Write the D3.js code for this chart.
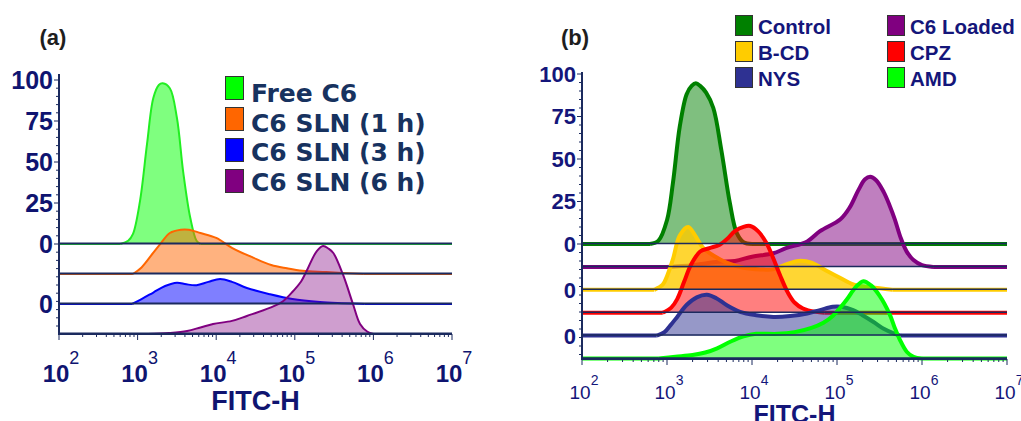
<!DOCTYPE html>
<html>
<head>
<meta charset="utf-8">
<script src="https://cdn.jsdelivr.net/npm/d3@7"></script>
<style>
  body { margin: 0; background: #fff; }
</style>
</head>
<body>
<svg id="chart" width="1021" height="421"></svg>
<script>
// x = log10(FITC-H), y = % of max count

// panel (a)
const freeC6 = [[2.78,0],[2.88,2],[2.94,6],[3.03,26],[3.12,61],[3.2,89],[3.27,97],[3.32,98],[3.41,95],[3.5,77],[3.58,44],[3.67,16],[3.75,2],[3.8,0]];
const sln1h = [[2.94,0],[3.05,4],[3.2,13],[3.3,19],[3.41,25],[3.55,27],[3.65,27],[3.8,25],[4.0,22],[4.2,16],[4.47,10],[4.7,5.5],[4.9,3.5],[5.1,2],[5.4,1.2],[5.87,0]];
const sln3h = [[2.93,0],[3.05,3],[3.2,7],[3.35,11],[3.5,13],[3.62,12],[3.75,11.5],[3.9,13.5],[4.05,15.2],[4.2,13.5],[4.39,9.8],[4.68,6],[4.97,3],[5.32,1.2],[5.6,0.5],[5.89,0]];
const sln6h = [[3.13,0],[3.4,0.6],[3.63,1.8],[3.8,4],[3.96,6.1],[4.2,8],[4.39,11],[4.68,15.9],[4.85,20],[4.98,26.2],[5.08,32],[5.15,38.4],[5.28,50.6],[5.36,53.7],[5.43,52],[5.49,49.4],[5.61,36.6],[5.74,18.3],[5.83,6.1],[5.92,1.5],[6.0,0]];

const seriesA = ["Free C6", "C6 SLN (1 h)", "C6 SLN (3 h)", "C6 SLN (6 h)"];

// panel (b)
const control = [[2.8,0],[2.9,2],[3.0,14],[3.07,36],[3.15,69],[3.23,88],[3.29,93],[3.34,94.5],[3.39,93],[3.46,89],[3.545,80],[3.64,55],[3.74,24],[3.82,6.5],[3.9,1],[4.0,0]];
const c6Loaded = [[3.0,0],[3.3,1],[3.6,3],[3.8,3.5],[4.0,6],[4.25,8],[4.4,11],[4.65,15],[4.8,21],[5.04,28],[5.15,35],[5.25,45],[5.33,51.5],[5.39,53],[5.46,51],[5.55,44],[5.62,36],[5.68,28],[5.75,17],[5.82,9],[5.9,4],[6.0,1],[6.13,0]];
const bcd = [[2.85,0],[2.95,3],[3.0,8],[3.07,18],[3.15,32],[3.25,37],[3.33,32],[3.42,25],[3.55,20],[3.7,16],[3.9,13],[4.1,12],[4.25,12],[4.4,15],[4.55,17],[4.7,16],[4.85,12],[5.0,8],[5.2,3],[5.4,1.5],[5.65,0]];
const cpz = [[2.95,0],[3.05,3],[3.12,8],[3.2,18],[3.28,28],[3.39,36],[3.5,38],[3.62,40],[3.72,44],[3.8,48],[3.9,50.5],[3.98,51],[4.07,48],[4.17,41],[4.25,32],[4.33,22],[4.42,12],[4.5,6],[4.6,2.5],[4.75,0.5],[4.85,0]];
const nys = [[2.88,0],[2.97,2],[3.04,6],[3.12,11],[3.23,18],[3.35,22.5],[3.47,24],[3.58,22],[3.7,18],[3.86,14],[4.05,12],[4.25,11],[4.45,11.5],[4.65,13],[4.8,15],[4.95,17],[5.05,17],[5.19,15],[5.3,12],[5.43,8],[5.55,4],[5.66,1.5],[5.75,0]];
const amd = [[2.9,0],[3.1,1],[3.3,2],[3.45,3.5],[3.59,6],[3.75,10],[3.9,13],[4.05,14.5],[4.3,14.5],[4.5,15.5],[4.7,18],[4.84,21],[4.95,25],[5.04,30],[5.12,35],[5.22,42],[5.31,45.5],[5.4,43],[5.5,37],[5.62,26],[5.68,18],[5.74,11],[5.82,4],[5.9,1],[6.0,0]];

const seriesB = ["Control", "C6 Loaded", "B-CD", "CPZ", "NYS", "AMD"];

const yTickValues = [0, 25, 50, 75, 100];
const xExponents = [2, 3, 4, 5, 6, 7];

const svg = d3.select("#chart");
const navy = "#1b2a5e";
const smooth = d3.curveCatmullRom.alpha(0.5);

function drawPanel(cfg) {
  const x = d3.scaleLog().domain([1e2, 1e7]).range([cfg.left, cfg.right]);
  const y = d3.scaleLinear().domain([0, 100]).range([cfg.zero, cfg.top100]);
  const g = svg.append("g");
  const rowY = (v, i) => y(v) + i * cfg.step;

  // histograms, top row first so lower rows sit on top
  cfg.series.forEach((s, i) => {
    const base = rowY(0, i);
    const area = d3.area()
      .x(d => x(10 ** d[0]))
      .y0(base)
      .y1(d => rowY(d[1], i))
      .curve(smooth);
    g.append("path")
      .attr("d", area(s.data))
      .attr("fill", s.color)
      .attr("fill-opacity", s.opacity);

    // flat count-zero runs either side of the histogram
    if (s.flat !== false) {
      const first = s.data[0][0], last = s.data[s.data.length - 1][0];
      [[2, first], [last, 7]].forEach(([a, b]) => {
        g.append("line")
          .attr("x1", x(10 ** a)).attr("x2", x(10 ** b))
          .attr("y1", base).attr("y2", base)
          .attr("stroke", s.line || s.color)
          .attr("stroke-width", cfg.lineWidth);
      });
    }
    g.append("path")
      .attr("d", area.lineY1()(s.data))
      .attr("fill", "none")
      .attr("stroke", s.line || s.color)
      .attr("stroke-width", cfg.lineWidth)
      .attr("stroke-linejoin", "round");
  });

  // navy zero lines through every row
  cfg.series.forEach((s, i) => {
    g.append("line")
      .attr("x1", cfg.left).attr("x2", cfg.right)
      .attr("y1", rowY(0, i) - cfg.navyShift).attr("y2", rowY(0, i) - cfg.navyShift)
      .attr("stroke", navy).attr("stroke-width", cfg.navyWidth);
  });

  // axes lines
  g.append("line")
    .attr("x1", cfg.left).attr("x2", cfg.left)
    .attr("y1", cfg.axisTop).attr("y2", cfg.bottom + 1)
    .attr("stroke", navy).attr("stroke-width", 2);
  g.append("line")
    .attr("x1", cfg.left).attr("x2", cfg.right)
    .attr("y1", cfg.bottom).attr("y2", cfg.bottom)
    .attr("stroke", navy).attr("stroke-width", 2);

  // y minor / major ticks
  d3.range(100, -80, -5).filter(v => y(v) <= cfg.bottom - 2).forEach(v => {
    const major = v % 25 === 0 && v >= 0;
    g.append("line")
      .attr("x1", cfg.left - (major ? 5 : 3)).attr("x2", cfg.left)
      .attr("y1", y(v)).attr("y2", y(v))
      .attr("stroke", navy).attr("stroke-width", 1);
  });

  // x log ticks
  xExponents.slice(0, -1).forEach(e => {
    d3.range(1, 10).forEach(m => {
      g.append("line")
        .attr("x1", x(m * 10 ** e)).attr("x2", x(m * 10 ** e))
        .attr("y1", cfg.bottom).attr("y2", cfg.bottom + (m === 1 ? 6 : 3))
        .attr("stroke", navy).attr("stroke-width", 1);
    });
  });
  g.append("line")
    .attr("x1", cfg.right).attr("x2", cfg.right)
    .attr("y1", cfg.bottom).attr("y2", cfg.bottom + 6)
    .attr("stroke", navy).attr("stroke-width", 1);

  // y labels
  yTickValues.forEach(v => {
    g.append("text")
      .attr("x", cfg.left - 6).attr("y", y(v)).attr("dy", "0.36em")
      .attr("text-anchor", "end")
      .attr("font-family", "Liberation Sans, Arial, sans-serif")
      .attr("font-weight", "bold").attr("font-size", cfg.yFont)
      .attr("fill", cfg.labelColor)
      .text(v);
  });
  cfg.extraZeros.forEach(i => {
    g.append("text")
      .attr("x", cfg.left - 6).attr("y", rowY(0, i)).attr("dy", "0.36em")
      .attr("text-anchor", "end")
      .attr("font-family", "Liberation Sans, Arial, sans-serif")
      .attr("font-weight", "bold").attr("font-size", cfg.yFont)
      .attr("fill", cfg.labelColor)
      .text(0);
  });

  // x labels 10^n
  xExponents.forEach(e => {
    const t = g.append("text")
      .attr("x", x(10 ** e) + 2).attr("y", cfg.xLabelY)
      .attr("text-anchor", "middle")
      .attr("font-family", "Liberation Sans, Arial, sans-serif")
      .attr("fill", cfg.labelColor);
    t.append("tspan")
      .attr("font-weight", cfg.xBold ? "bold" : "normal")
      .attr("font-size", cfg.xFont)
      .text("10");
    t.append("tspan")
      .attr("dy", -cfg.supShift)
      .attr("font-size", cfg.supFont)
      .text(e);
  });

  g.append("text")
    .attr("x", (cfg.left + cfg.right) / 2).attr("y", cfg.titleY)
    .attr("text-anchor", "middle")
    .attr("font-family", "Liberation Sans, Arial, sans-serif")
    .attr("font-weight", "bold").attr("font-size", cfg.titleFont)
    .attr("fill", cfg.labelColor)
    .text("FITC-H");

  g.append("text")
    .attr("x", cfg.tagX).attr("y", 45)
    .attr("text-anchor", "middle")
    .attr("font-family", "Liberation Sans, Arial, sans-serif")
    .attr("font-weight", "bold").attr("font-size", 22)
    .attr("fill", "#1e1e1e")
    .text(cfg.tag);
}

drawPanel({
  left: 59, right: 452, zero: 244, top100: 80, step: 30, bottom: 334, axisTop: 74,
  lineWidth: 2, navyWidth: 2, navyShift: 0.5,
  labelColor: "#0f1470", yFont: 25, xFont: 24, xBold: true, supFont: 18, supShift: 18,
  xLabelY: 382, titleY: 410, titleFont: 27, tag: "(a)", tagX: 53,
  extraZeros: [2],
  series: [
    { data: freeC6, color: "#00ff00", line: "#22ee22", opacity: 0.5 },
    { data: sln1h, color: "#ff6600", opacity: 0.5 },
    { data: sln3h, color: "#0000ff", opacity: 0.5 },
    { data: sln6h, color: "#800080", opacity: 0.38, flat: false }
  ]
});

drawPanel({
  left: 582, right: 1007, zero: 244, top100: 74, step: 22.9, bottom: 359, axisTop: 72,
  lineWidth: 4, navyWidth: 1.5, navyShift: 0.5,
  labelColor: "#14167a", yFont: 22, xFont: 19, xBold: false, supFont: 14, supShift: 14,
  xLabelY: 399, titleY: 423, titleFont: 25, tag: "(b)", tagX: 575,
  extraZeros: [2, 4],
  series: [
    { data: control, color: "#008000", opacity: 0.5 },
    { data: c6Loaded, color: "#800080", opacity: 0.5 },
    { data: bcd, color: "#ffcc00", opacity: 0.8 },
    { data: cpz, color: "#ff0000", opacity: 0.5 },
    { data: nys, color: "#2e3192", opacity: 0.5 },
    { data: amd, color: "#00ff00", opacity: 0.5 }
  ]
});

// legend (a)
const legendAColors = ["#00ff00", "#ff6600", "#0000ff", "#800080"];
const legA = svg.append("g");
seriesA.forEach((name, i) => {
  legA.append("rect")
    .attr("x", 225.5).attr("y", 76.5 + i * 31)
    .attr("width", 18).attr("height", 23)
    .attr("fill", legendAColors[i]).attr("stroke", "#333").attr("stroke-width", 1);
  legA.append("text")
    .attr("x", 251).attr("y", 102 + i * 29.7)
    .attr("font-family", "DejaVu Sans, Verdana, sans-serif")
    .attr("font-weight", "bold").attr("font-size", 25)
    .attr("fill", "#17325f")
    .text(name);
});

// legend (b), two columns of three
const legendBColors = ["#008000", "#800080", "#ffcc00", "#ff0000", "#2e3192", "#00ff00"];
const legendBOrder = [0, 2, 4, 1, 3, 5];
const legB = svg.append("g");
legendBOrder.forEach((k, j) => {
  const col = Math.floor(j / 3), row = j % 3;
  legB.append("rect")
    .attr("x", 735.5 + col * 152).attr("y", 15.5 + row * 26)
    .attr("width", 17).attr("height", 20)
    .attr("fill", legendBColors[k]).attr("stroke", "#333").attr("stroke-width", 1);
  legB.append("text")
    .attr("x", 758 + col * 152).attr("y", 34 + row * 26)
    .attr("font-family", "Liberation Sans, Arial, sans-serif")
    .attr("font-weight", "bold").attr("font-size", 20.5)
    .attr("fill", "#14167a")
    .text(seriesB[k]);
});
</script>
</body>
</html>
